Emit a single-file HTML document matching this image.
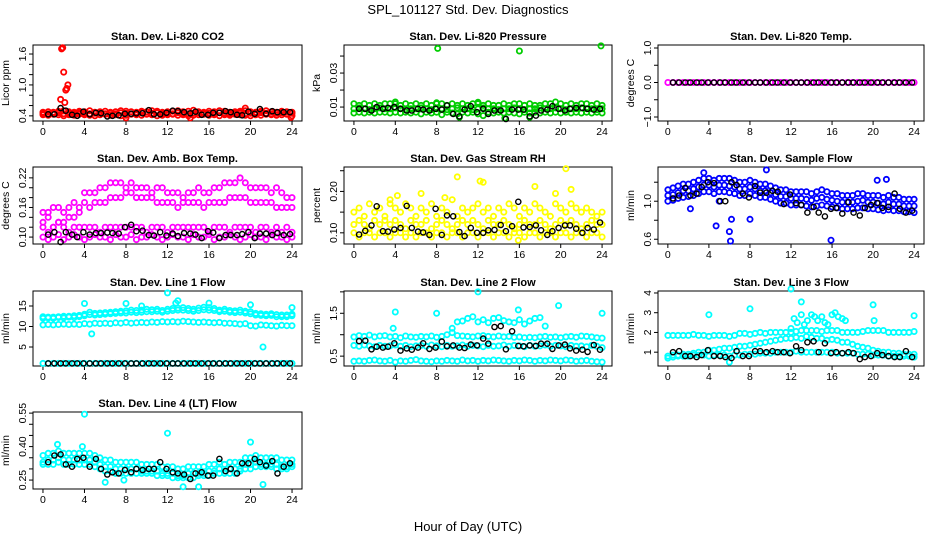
<!DOCTYPE html>
<html><head><meta charset="utf-8"><style>
html,body{margin:0;padding:0;background:#fff}
svg{display:block;font-family:"Liberation Sans",Arial,sans-serif}
</style></head><body>
<svg id="chart" width="936" height="540" viewBox="0 0 936 540" xmlns="http://www.w3.org/2000/svg">
<text x="468" y="14" text-anchor="middle" font-size="13">SPL_101127  Std. Dev. Diagnostics</text>
<text x="468" y="531" text-anchor="middle" font-size="13">Hour of Day (UTC)</text>
</svg>
<script>
const H=[0,0.5,1,1.5,2,2.5,3,3.5,4,4.5,5,5.5,6,6.5,7,7.5,8,8.5,9,9.5,10,10.5,11,11.5,12,12.5,13,13.5,14,14.5,15,15.5,16,16.5,17,17.5,18,18.5,19,19.5,20,20.5,21,21.5,22,22.5,23,23.5,24];
const BH=[0.5,1.1,1.7,2.2,2.8,3.3,3.9,4.5,5.1,5.6,6.2,6.7,7.3,7.9,8.5,9.0,9.6,10.2,10.7,11.3,11.9,12.5,13.0,13.6,14.2,14.7,15.3,15.9,16.4,17.0,17.6,18.1,18.7,19.2,19.8,20.4,20.9,21.5,22.1,22.6,23.2,23.8];

// P1 CO2
const co2Upper=[0.47,0.48,0.47,0.49,0.50,0.48,0.47,0.49,0.48,0.50,0.47,0.48,0.49,0.47,0.48,0.50,0.49,0.48,0.47,0.49,0.48,0.50,0.49,0.47,0.48,0.49,0.50,0.48,0.49,0.51,0.48,0.47,0.49,0.48,0.50,0.49,0.47,0.48,0.49,0.50,0.48,0.47,0.49,0.50,0.48,0.47,0.49,0.48,0.47];
const co2Mid=[0.45,0.44,0.45,0.46,0.44,0.45,0.44,0.46,0.45,0.44,0.45,0.46,0.44,0.45,0.44,0.46,0.45,0.44,0.45,0.46,0.44,0.45,0.46,0.44,0.45,0.44,0.46,0.45,0.44,0.45,0.46,0.44,0.45,0.44,0.46,0.45,0.44,0.45,0.46,0.44,0.45,0.44,0.46,0.45,0.44,0.45,0.46,0.44,0.45];
const co2Lower=[0.42,0.41,0.43,0.42,0.40,0.42,0.41,0.43,0.42,0.41,0.40,0.42,0.43,0.41,0.42,0.40,0.41,0.43,0.42,0.41,0.43,0.42,0.40,0.41,0.42,0.43,0.41,0.42,0.40,0.41,0.42,0.43,0.41,0.42,0.40,0.42,0.41,0.43,0.42,0.41,0.40,0.42,0.41,0.43,0.42,0.41,0.42,0.43,0.40];
const co2OutX=[1.7,1.8,1.9,2.0,2.1,2.2,2.3,2.4,14.2,8.0,19.5,23.9];
const co2OutY=[0.72,1.70,1.72,1.25,0.66,0.90,0.93,1.00,0.36,0.36,0.55,0.37];
const co2Black=[0.43,0.43,0.55,0.50,0.42,0.40,0.48,0.43,0.46,0.45,0.39,0.40,0.41,0.44,0.44,0.45,0.45,0.51,0.43,0.43,0.46,0.50,0.49,0.47,0.45,0.48,0.42,0.42,0.46,0.46,0.49,0.47,0.42,0.41,0.48,0.44,0.53,0.44,0.49,0.47,0.47,0.47];

// P2 Pressure
const presA=[0.012,0.011,0.012,0.011,0.012,0.011,0.012,0.012,0.013,0.011,0.012,0.011,0.012,0.011,0.012,0.011,0.012,0.012,0.011,0.012,0.011,0.012,0.011,0.012,0.012,0.011,0.012,0.011,0.011,0.012,0.011,0.012,0.012,0.011,0.012,0.011,0.011,0.012,0.012,0.013,0.012,0.011,0.012,0.011,0.012,0.012,0.011,0.012,0.011];
const presB=[0.009,0.0095,0.009,0.0085,0.009,0.0095,0.009,0.009,0.0095,0.009,0.0085,0.009,0.009,0.0095,0.009,0.0085,0.009,0.009,0.0085,0.009,0.0095,0.009,0.009,0.0085,0.009,0.0095,0.009,0.009,0.0085,0.009,0.009,0.0095,0.009,0.0085,0.009,0.009,0.0095,0.009,0.009,0.0095,0.009,0.0085,0.009,0.009,0.0095,0.009,0.009,0.0085,0.009];
const presC=[0.0065,0.007,0.0065,0.007,0.0065,0.007,0.007,0.0065,0.007,0.0065,0.007,0.0065,0.007,0.006,0.007,0.0065,0.007,0.0055,0.007,0.0065,0.006,0.007,0.0065,0.007,0.006,0.005,0.007,0.0065,0.007,0.0065,0.007,0.0065,0.006,0.007,0.0065,0.007,0.0065,0.007,0.0065,0.007,0.0065,0.007,0.0065,0.007,0.0065,0.007,0.0065,0.007,0.0065];
const presOutX=[8.1,16.0,23.9,8.0,12.0,4.0,14.6,10.2,17.0];
const presOutY=[0.0445,0.043,0.046,0.0125,0.0128,0.012,0.0035,0.004,0.004];
const presBlack=[0.009,0.009,0.008,0.010,0.009,0.0095,0.010,0.009,0.008,0.008,0.009,0.0085,0.008,0.009,0.0085,0.011,0.006,0.0045,0.0085,0.0105,0.007,0.009,0.006,0.008,0.008,0.003,0.0085,0.0085,0.0085,0.0045,0.005,0.008,0.0085,0.0105,0.009,0.008,0.009,0.0095,0.0095,0.009,0.0085,0.009];

// P3 Temp
const tempMag=[0,0,0,0,0,0,0,0,0,0,0,0,0,0,0,0,0,0,0,0,0,0,0,0,0,0,0,0,0,0,0,0,0,0,0,0,0,0,0,0,0,0,0,0,0,0,0,0,0];
const tempBlack=[0,0,0,0,0,0,0,0,0,0,0,0,0,0,0,0,0,0,0,0,0,0,0,0,0,0,0,0,0,0,0,0,0,0,0,0,0,0,0,0,0,0];

// P4 Amb box temp
const ambU1=[0.15,0.15,0.16,0.16,0.15,0.16,0.17,0.16,0.19,0.19,0.19,0.20,0.20,0.21,0.21,0.21,0.20,0.21,0.20,0.20,0.20,0.19,0.20,0.20,0.19,0.19,0.19,0.18,0.19,0.19,0.20,0.19,0.19,0.20,0.20,0.21,0.21,0.21,0.22,0.21,0.20,0.20,0.20,0.20,0.19,0.20,0.19,0.18,0.18];
const ambU2=[0.13,0.14,0.12,0.13,0.13,0.14,0.14,0.15,0.17,0.16,0.17,0.17,0.17,0.18,0.18,0.18,0.19,0.19,0.18,0.18,0.18,0.18,0.17,0.17,0.17,0.17,0.16,0.17,0.17,0.17,0.17,0.16,0.17,0.17,0.17,0.17,0.18,0.18,0.18,0.18,0.17,0.17,0.17,0.17,0.17,0.16,0.16,0.16,0.16];
const ambL1=[0.12,0.11,0.12,0.13,0.12,0.11,0.12,0.12,0.12,0.12,0.12,0.11,0.12,0.12,0.12,0.12,0.12,0.12,0.12,0.12,0.11,0.12,0.12,0.12,0.11,0.12,0.12,0.12,0.12,0.12,0.12,0.12,0.11,0.12,0.12,0.12,0.11,0.12,0.12,0.12,0.12,0.11,0.12,0.12,0.11,0.12,0.11,0.12,0.11];
const ambL2=[0.10,0.095,0.10,0.105,0.095,0.10,0.105,0.10,0.095,0.10,0.105,0.10,0.10,0.095,0.105,0.10,0.10,0.105,0.095,0.10,0.10,0.105,0.10,0.095,0.10,0.105,0.10,0.10,0.095,0.105,0.10,0.10,0.105,0.095,0.10,0.10,0.105,0.10,0.095,0.10,0.105,0.10,0.10,0.095,0.105,0.10,0.10,0.095,0.10];
const ambBlack=[0.105,0.11,0.09,0.11,0.105,0.10,0.11,0.105,0.108,0.108,0.109,0.108,0.107,0.12,0.125,0.112,0.113,0.104,0.103,0.11,0.103,0.107,0.102,0.108,0.107,0.105,0.098,0.112,0.109,0.098,0.104,0.104,0.104,0.106,0.11,0.098,0.107,0.107,0.104,0.108,0.104,0.106];

// P5 RH
const rhA=[0.15,0.16,0.14,0.17,0.15,0.16,0.14,0.17,0.16,0.15,0.17,0.16,0.14,0.16,0.15,0.17,0.14,0.16,0.15,0.18,0.14,0.16,0.15,0.16,0.17,0.15,0.16,0.14,0.16,0.15,0.17,0.16,0.14,0.16,0.15,0.17,0.16,0.15,0.14,0.17,0.16,0.15,0.17,0.16,0.15,0.16,0.15,0.14,0.15];
const rhB=[0.12,0.13,0.12,0.11,0.13,0.12,0.13,0.12,0.13,0.12,0.11,0.13,0.12,0.12,0.13,0.11,0.12,0.13,0.12,0.11,0.12,0.13,0.12,0.13,0.12,0.11,0.13,0.12,0.12,0.13,0.12,0.11,0.12,0.13,0.12,0.12,0.13,0.12,0.11,0.12,0.13,0.12,0.13,0.12,0.11,0.12,0.13,0.12,0.12];
const rhC=[0.10,0.09,0.10,0.10,0.09,0.10,0.10,0.09,0.10,0.10,0.09,0.10,0.09,0.10,0.10,0.09,0.10,0.10,0.09,0.10,0.10,0.09,0.10,0.10,0.09,0.10,0.10,0.09,0.10,0.10,0.09,0.10,0.10,0.09,0.10,0.10,0.09,0.10,0.10,0.09,0.10,0.10,0.09,0.10,0.10,0.09,0.10,0.10,0.09];
const rhOutX=[10.0,12.2,12.5,17.5,20.5,21.0,6.5,3.5,15.9,4.2,8.8,19.5];
const rhOutY=[0.235,0.225,0.222,0.212,0.255,0.205,0.195,0.18,0.082,0.19,0.185,0.195];
const rhBlack=[0.096,0.105,0.118,0.164,0.104,0.103,0.108,0.112,0.165,0.112,0.103,0.101,0.095,0.158,0.095,0.142,0.140,0.102,0.092,0.112,0.100,0.100,0.106,0.107,0.119,0.104,0.116,0.175,0.113,0.114,0.118,0.106,0.095,0.104,0.112,0.118,0.118,0.110,0.100,0.112,0.108,0.125];

// P6 Sample flow
const sfA=[1.12,1.14,1.16,1.18,1.18,1.20,1.22,1.24,1.24,1.22,1.24,1.24,1.24,1.22,1.20,1.20,1.22,1.20,1.18,1.18,1.16,1.14,1.12,1.12,1.10,1.10,1.10,1.10,1.08,1.10,1.12,1.10,1.08,1.08,1.06,1.06,1.06,1.08,1.08,1.06,1.06,1.06,1.04,1.06,1.04,1.04,1.02,1.02,1.02];
const sfB=[1.06,1.07,1.09,1.11,1.11,1.13,1.15,1.17,1.17,1.15,1.17,1.17,1.16,1.15,1.13,1.13,1.15,1.13,1.11,1.11,1.09,1.07,1.05,1.05,1.03,1.03,1.03,1.02,1.01,1.03,1.04,1.02,1.01,1.00,0.99,0.99,0.99,1.00,1.01,0.99,0.99,0.98,0.97,0.99,0.97,0.97,0.95,0.95,0.95];
const sfC=[1.00,1.01,1.03,1.04,1.05,1.06,1.08,1.10,1.10,1.08,1.10,1.10,1.09,1.08,1.06,1.06,1.08,1.06,1.04,1.04,1.02,1.00,0.98,0.98,0.96,0.96,0.96,0.95,0.94,0.95,0.96,0.95,0.94,0.93,0.92,0.92,0.92,0.93,0.93,0.92,0.92,0.91,0.90,0.91,0.90,0.90,0.89,0.89,0.88];
const sfOutX=[4.7,6.0,6.1,6.2,8.0,15.9,9.6,3.5,20.4,21.3,5.0,2.2];
const sfOutY=[0.74,0.68,0.58,0.81,0.81,0.59,1.33,1.30,1.22,1.23,1.00,0.92];
const sfBlack=[1.03,1.06,1.14,1.06,1.08,1.15,1.20,1.19,1.00,1.00,1.20,1.17,1.08,1.04,1.16,1.09,1.09,1.11,1.10,0.97,1.07,0.98,0.96,0.88,0.94,0.88,0.84,0.92,0.93,0.87,0.99,0.88,0.85,0.93,0.96,0.98,0.93,0.94,1.08,0.92,0.88,0.90];

// P7 Line 1
const l1A=[12.4,12.3,12.3,12.4,12.5,12.5,12.6,12.7,13.0,13.5,13.2,13.3,13.4,13.5,13.6,13.7,13.8,14.0,13.9,14.0,14.2,14.1,14.2,13.9,14.2,14.4,14.5,14.6,14.4,14.2,14.5,14.7,14.6,14.4,14.0,14.2,13.9,13.8,14.0,13.7,13.6,13.2,13.1,13.0,13.1,12.9,12.8,12.8,13.0];
const l1A2=[12.0,12.1,12.0,12.2,12.1,12.3,12.2,12.4,12.6,12.9,12.8,12.9,13.0,13.1,13.2,13.3,13.3,13.5,13.4,13.5,13.6,13.6,13.7,13.5,13.7,13.9,14.0,14.0,13.9,13.7,13.9,14.1,14.0,13.9,13.6,13.7,13.5,13.4,13.5,13.3,13.1,12.8,12.7,12.6,12.7,12.4,12.4,12.4,12.6];
const l1B=[10.4,10.5,10.4,10.5,10.6,10.5,10.6,10.5,10.7,10.6,10.8,10.7,10.8,10.7,10.9,10.8,11.0,10.8,10.9,11.0,10.9,11.1,11.0,11.2,11.1,11.2,11.1,11.3,11.2,11.1,11.0,11.1,11.0,10.9,11.0,10.8,10.8,10.7,10.6,10.7,10.2,10.1,10.4,10.3,10.2,10.1,10.3,10.2,10.2];
const l1C=[1,1,1,1,1,1,1,1,1,1,1,1,1,1,1,1,1,1,1,1,1,1,1,1,1,1,1,1,1,1,1,1,1,1,1,1,1,1,1,1,1,1,1,1,1,1,1,1,1];
const l1OutX=[4.0,4.7,8.0,12.0,12.8,13.0,16.0,20.0,21.2,24.0,9.5];
const l1OutY=[15.6,8.2,15.6,18.2,15.7,16.3,15.7,15.3,5.0,14.6,15.0];
const l1Black=[1,1,1,1,1,1,1,1,1,1,1,1,1,1,1,1,1,1,1,1,1,1,1,1,1,1,1,1,1,1,1,1,1,1,1,1,1,1,1,1,1,1];

// P8 Line 2
const l2A=[0.95,0.98,0.96,0.99,0.95,0.97,0.98,0.95,0.96,0.93,0.97,0.95,0.94,0.96,0.95,0.97,0.94,0.96,1.0,1.05,0.98,0.97,0.96,0.95,0.97,0.98,0.96,0.95,0.97,0.95,0.96,0.94,0.95,0.93,0.94,0.93,0.95,0.96,0.94,0.95,0.93,0.95,0.96,0.94,0.97,0.96,0.95,0.93,0.92];
const l2B=[0.75,0.73,0.76,0.74,0.72,0.75,0.73,0.74,0.76,0.73,0.75,0.72,0.74,0.75,0.73,0.76,0.74,0.72,0.75,0.73,0.74,0.76,0.73,0.75,0.74,0.72,0.75,0.73,0.74,0.76,0.73,0.75,0.74,0.72,0.75,0.73,0.74,0.76,0.73,0.75,0.74,0.72,0.75,0.73,0.74,0.72,0.75,0.73,0.70];
const l2C=[0.38,0.39,0.38,0.40,0.41,0.39,0.38,0.40,0.36,0.39,0.38,0.40,0.42,0.39,0.38,0.37,0.39,0.38,0.40,0.39,0.38,0.41,0.39,0.40,0.38,0.40,0.39,0.41,0.40,0.39,0.38,0.40,0.39,0.41,0.40,0.38,0.40,0.39,0.41,0.40,0.39,0.41,0.40,0.38,0.39,0.40,0.38,0.37,0.36];
const l2UpX=[9.5,10,10.5,11,11.5,12,12.5,13,13.5,14,14.5,15,15.5,16,16.5,17,17.5,18,18.5];
const l2UpY=[1.15,1.30,1.32,1.38,1.42,1.30,1.35,1.28,1.38,1.40,1.33,1.30,1.28,1.35,1.25,1.32,1.38,1.40,1.20];
const l2OutX=[4.0,8.0,12.0,15.9,19.8,24.0,3.8];
const l2OutY=[1.53,1.50,2.00,1.58,1.68,1.50,1.15];
const l2Black=[0.85,0.86,0.66,0.72,0.70,0.72,0.80,0.63,0.68,0.65,0.70,0.80,0.67,0.70,0.84,0.73,0.75,0.70,0.69,0.77,0.75,0.91,0.79,1.18,1.20,0.66,1.08,0.74,0.73,0.75,0.74,0.79,0.79,0.67,0.75,0.77,0.68,0.63,0.65,0.60,0.76,0.65];

// P9 Line 3
const l3A=[1.85,1.85,1.85,1.85,1.85,1.9,1.85,1.85,1.8,1.85,1.85,1.85,1.8,1.85,1.95,1.95,1.9,1.95,2.0,1.95,2.0,2.0,2.0,2.0,2.0,2.05,2.1,2.1,2.1,2.1,2.05,2.1,2.1,2.1,2.0,2.0,2.0,2.0,2.05,2.1,2.1,2.1,2.1,2.0,2.0,2.0,2.0,2.0,2.05];
const l3M=[0.8,0.85,0.85,0.9,0.9,0.95,1.0,1.0,1.1,1.1,1.15,1.2,1.2,1.25,1.3,1.3,1.35,1.4,1.45,1.5,1.55,1.6,1.65,1.7,1.7,1.75,1.7,1.8,1.75,1.7,1.7,1.6,1.65,1.6,1.5,1.5,1.4,1.3,1.25,1.2,1.1,1.05,1.0,1.0,0.95,0.95,0.9,0.9,0.9];
const l3L=[0.7,0.75,0.8,0.8,0.8,0.85,0.85,0.85,0.8,0.85,0.85,0.85,0.8,0.85,0.85,0.9,0.9,0.9,0.95,0.95,0.95,1.0,1.0,1.0,1.0,1.05,1.0,1.0,1.0,1.0,1.0,1.0,1.0,0.95,0.95,0.95,0.95,0.9,0.9,0.9,0.85,0.85,0.85,0.8,0.8,0.8,0.8,0.8,0.75];
const l3CloudX=[12,12.3,12.6,13,13.3,13.6,14,14.3,14.6,15,15.3,15.6,16,16.3,16.6,17,17.3];
const l3CloudY=[2.2,2.7,2.5,2.9,2.4,2.6,2.9,2.8,2.6,2.8,2.5,2.4,2.9,3.0,2.8,2.7,2.6];
const l3OutX=[4.0,8.0,12.0,13.0,20.0,20.1,24.0,6.0];
const l3OutY=[2.9,3.2,4.2,3.55,3.4,2.6,2.85,0.5];
const l3Black=[1.0,1.05,0.8,0.8,0.75,0.85,1.1,0.8,0.8,0.75,0.7,1.05,0.8,0.8,1.05,1.05,1.0,1.05,1.0,1.0,0.95,1.3,1.1,1.5,1.55,1.0,1.45,0.95,1.0,0.95,1.0,0.95,0.65,0.75,0.8,0.95,0.85,0.8,0.75,0.75,1.05,0.75];

// P10 Line 4
const l4A=[0.36,0.37,0.37,0.38,0.37,0.37,0.37,0.37,0.37,0.37,0.36,0.35,0.34,0.34,0.33,0.33,0.33,0.33,0.33,0.32,0.32,0.32,0.32,0.31,0.31,0.31,0.30,0.30,0.31,0.31,0.31,0.31,0.32,0.32,0.33,0.32,0.33,0.33,0.33,0.35,0.35,0.36,0.35,0.35,0.35,0.35,0.34,0.34,0.34];
const l4B=[0.33,0.34,0.34,0.35,0.34,0.34,0.34,0.34,0.34,0.34,0.33,0.32,0.31,0.31,0.30,0.30,0.30,0.30,0.30,0.29,0.29,0.29,0.29,0.28,0.28,0.28,0.27,0.27,0.28,0.28,0.28,0.28,0.29,0.29,0.30,0.29,0.30,0.30,0.30,0.32,0.32,0.33,0.32,0.32,0.32,0.32,0.31,0.31,0.32];
const l4C=[0.32,0.32,0.32,0.33,0.32,0.32,0.32,0.32,0.32,0.32,0.31,0.30,0.29,0.29,0.28,0.28,0.28,0.28,0.28,0.28,0.28,0.28,0.27,0.27,0.27,0.26,0.26,0.26,0.26,0.26,0.27,0.27,0.27,0.28,0.28,0.28,0.28,0.28,0.29,0.30,0.30,0.31,0.31,0.31,0.31,0.30,0.30,0.30,0.31];
const l4OutX=[4.0,12.0,20.0,21.2,13.5,15.0,6.0,7.8,1.4,3.8];
const l4OutY=[0.545,0.46,0.42,0.23,0.22,0.22,0.24,0.25,0.41,0.40];
const l4Black=[0.33,0.36,0.365,0.32,0.31,0.345,0.35,0.31,0.345,0.30,0.275,0.285,0.28,0.295,0.285,0.30,0.295,0.30,0.30,0.33,0.30,0.285,0.28,0.275,0.255,0.28,0.285,0.27,0.27,0.345,0.29,0.30,0.28,0.325,0.325,0.345,0.33,0.315,0.335,0.28,0.31,0.325];

const NS='http://www.w3.org/2000/svg';
const svg=document.getElementById('chart');
const COLL=[33,344,658], COLR=[302,612,924], ROWT=[45,167,291,412], ROWB=[121,244,366,489];
function mk(tag,attrs,parent){const e=document.createElementNS(NS,tag);for(const k in attrs)e.setAttribute(k,attrs[k]);(parent||svg).appendChild(e);return e;}

function panel(col,row,name,title,ylab,ymin,ymax,ticks,labels){
  const L=COLL[col],R=COLR[col],T=ROWT[row],B=ROWB[row];
  const g=mk('g',{});
  
  
  const xs=h=>L+(h+0.96)/25.92*(R-L);
  const ys=v=>B-(v-ymin)/(ymax-ymin)*(B-T);
  const t=mk('text',{x:(L+R)/2,y:T-5,'text-anchor':'middle','font-size':'11','font-weight':'bold'},g);
  t.textContent=title;
  
  
  const yl=mk('text',{x:0,y:0,'text-anchor':'middle','font-size':'10.5',transform:`translate(${L-24},${(T+B)/2}) rotate(-90)`},g);
  yl.textContent=ylab;
  
  
  const xa=mk('g',{},g);
  
  
  mk('line',{x1:xs(0),x2:xs(24),y1:B,y2:B,stroke:'#000','stroke-width':1},xa);
  [0,4,8,12,16,20,24].forEach(h=>{
    mk('line',{x1:xs(h),x2:xs(h),y1:B,y2:B+4,stroke:'#000','stroke-width':1},xa);
    const tx=mk('text',{x:xs(h),y:B+14,'text-anchor':'middle','font-size':'10.5'},xa);
    tx.textContent=String(h);
  });
  const ya=mk('g',{},g);
  
  
  mk('line',{x1:L,x2:L,y1:ys(ticks[0]),y2:ys(ticks[ticks.length-1]),stroke:'#000','stroke-width':1},ya);
  ticks.forEach((v,i)=>{
    mk('line',{x1:L-4,x2:L,y1:ys(v),y2:ys(v),stroke:'#000','stroke-width':1},ya);
    if(labels[i]){
      const tx=mk('text',{x:0,y:0,'text-anchor':'middle','font-size':'10.5',transform:`translate(${L-7},${ys(v)}) rotate(-90)`},ya);
      tx.textContent=labels[i];
    }
  });
  mk('rect',{x:L,y:T,width:R-L,height:B-T,fill:'none',stroke:'#000','stroke-width':1},g);
  const pts=mk('g',{},g);
  return {xs,ys,g:pts,name};
}
function pts(p,xArr,yArr,color,label){
  const s=mk('g',{fill:'none',stroke:color,'stroke-width':color==='#000000'?1.4:1.8},p.g);
  
  
  for(let i=0;i<yArr.length;i++){
    const c=mk('circle',{cx:p.xs(xArr[i]).toFixed(1),cy:p.ys(yArr[i]).toFixed(1),r:2.6},s);
    
    
  }
}
const RED='#ff0000',GRN='#00cd00',MAG='#ff00ff',YEL='#ffff00',BLU='#0000ff',CYA='#00ffff',BLK='#000000';

let p=panel(0,0,'co2','Stan. Dev. Li-820 CO2','Licor ppm',0.30,1.775,[0.4,0.6,0.8,1.0,1.2,1.4,1.6],['0.4',null,null,'1.0',null,null,'1.6']);
pts(p,H,co2Upper,RED,'red-upper');pts(p,H,co2Mid,RED,'red-mid');pts(p,H,co2Lower,RED,'red-lower');pts(p,co2OutX,co2OutY,RED,'red-outliers');pts(p,BH,co2Black,BLK,'hourly-black');

p=panel(1,0,'pressure','Stan. Dev. Li-820 Pressure','kPa',0.0018,0.0465,[0.01,0.02,0.03,0.04],['0.01',null,'0.03',null]);
pts(p,H,presA,GRN,'green-a');pts(p,H,presB,GRN,'green-b');pts(p,H,presC,GRN,'green-c');pts(p,presOutX,presOutY,GRN,'green-outliers');pts(p,BH,presBlack,BLK,'hourly-black');

p=panel(2,0,'temp','Stan. Dev. Li-820 Temp.','degrees C',-1.116,1.087,[-1,-0.5,0,0.5,1],['\u22121.0',null,'0.0',null,'1.0']);
pts(p,H,tempMag,MAG,'magenta');pts(p,BH,tempBlack,BLK,'hourly-black');

p=panel(0,1,'ambbox','Stan. Dev. Amb. Box Temp.','degrees C',0.086,0.242,[0.10,0.12,0.14,0.16,0.18,0.20,0.22],['0.10',null,null,'0.16',null,null,'0.22']);
pts(p,H,ambU1,MAG,'magenta-u1');pts(p,H,ambU2,MAG,'magenta-u2');pts(p,H,ambL1,MAG,'magenta-l1');pts(p,H,ambL2,MAG,'magenta-l2');pts(p,BH,ambBlack,BLK,'hourly-black');

p=panel(1,1,'rh','Stan. Dev. Gas Stream RH','percent',0.073,0.259,[0.10,0.15,0.20,0.25],['0.10',null,'0.20',null]);
pts(p,H,rhA,YEL,'yellow-a');pts(p,H,rhB,YEL,'yellow-b');pts(p,H,rhC,YEL,'yellow-c');pts(p,rhOutX,rhOutY,YEL,'yellow-outliers');pts(p,BH,rhBlack,BLK,'hourly-black');

p=panel(2,1,'sampleflow','Stan. Dev. Sample Flow','ml/min',0.55,1.36,[0.6,0.8,1.0,1.2],['0.6',null,'1.0',null]);
pts(p,H,sfA,BLU,'blue-a');pts(p,H,sfB,BLU,'blue-b');pts(p,H,sfC,BLU,'blue-c');pts(p,sfOutX,sfOutY,BLU,'blue-outliers');pts(p,BH,sfBlack,BLK,'hourly-black');

p=panel(0,2,'line1','Stan. Dev. Line 1 Flow','ml/min',0.37,18.66,[5,10,15],['5','10','15']);
pts(p,H,l1A,CYA,'cyan-a');pts(p,H,l1A2,CYA,'cyan-a2');pts(p,H,l1B,CYA,'cyan-b');pts(p,H,l1C,CYA,'cyan-c');pts(p,l1OutX,l1OutY,CYA,'cyan-outliers');pts(p,BH,l1Black,BLK,'hourly-black');

p=panel(1,2,'line2','Stan. Dev. Line 2 Flow','ml/min',0.27,2.02,[0.5,1.0,1.5,2.0],['0.5',null,'1.5',null]);
pts(p,H,l2A,CYA,'cyan-a');pts(p,H,l2B,CYA,'cyan-b');pts(p,H,l2C,CYA,'cyan-c');pts(p,l2UpX,l2UpY,CYA,'cyan-upper');pts(p,l2OutX,l2OutY,CYA,'cyan-outliers');pts(p,BH,l2Black,BLK,'hourly-black');

p=panel(2,2,'line3','Stan. Dev. Line 3 Flow','ml/min',0.30,4.1,[1,2,3,4],['1','2','3','4']);
pts(p,H,l3A,CYA,'cyan-a');pts(p,H,l3M,CYA,'cyan-m');pts(p,H,l3L,CYA,'cyan-l');pts(p,l3CloudX,l3CloudY,CYA,'cyan-cloud');pts(p,l3OutX,l3OutY,CYA,'cyan-outliers');pts(p,BH,l3Black,BLK,'hourly-black');

p=panel(0,3,'line4','Stan. Dev. Line 4 (LT) Flow','ml/min',0.21,0.555,[0.25,0.30,0.35,0.40,0.45,0.50,0.55],['0.25',null,null,'0.40',null,null,'0.55']);
pts(p,H,l4A,CYA,'cyan-a');pts(p,H,l4B,CYA,'cyan-b');pts(p,H,l4C,CYA,'cyan-c');pts(p,l4OutX,l4OutY,CYA,'cyan-outliers');pts(p,BH,l4Black,BLK,'hourly-black');
</script>
</body></html>
